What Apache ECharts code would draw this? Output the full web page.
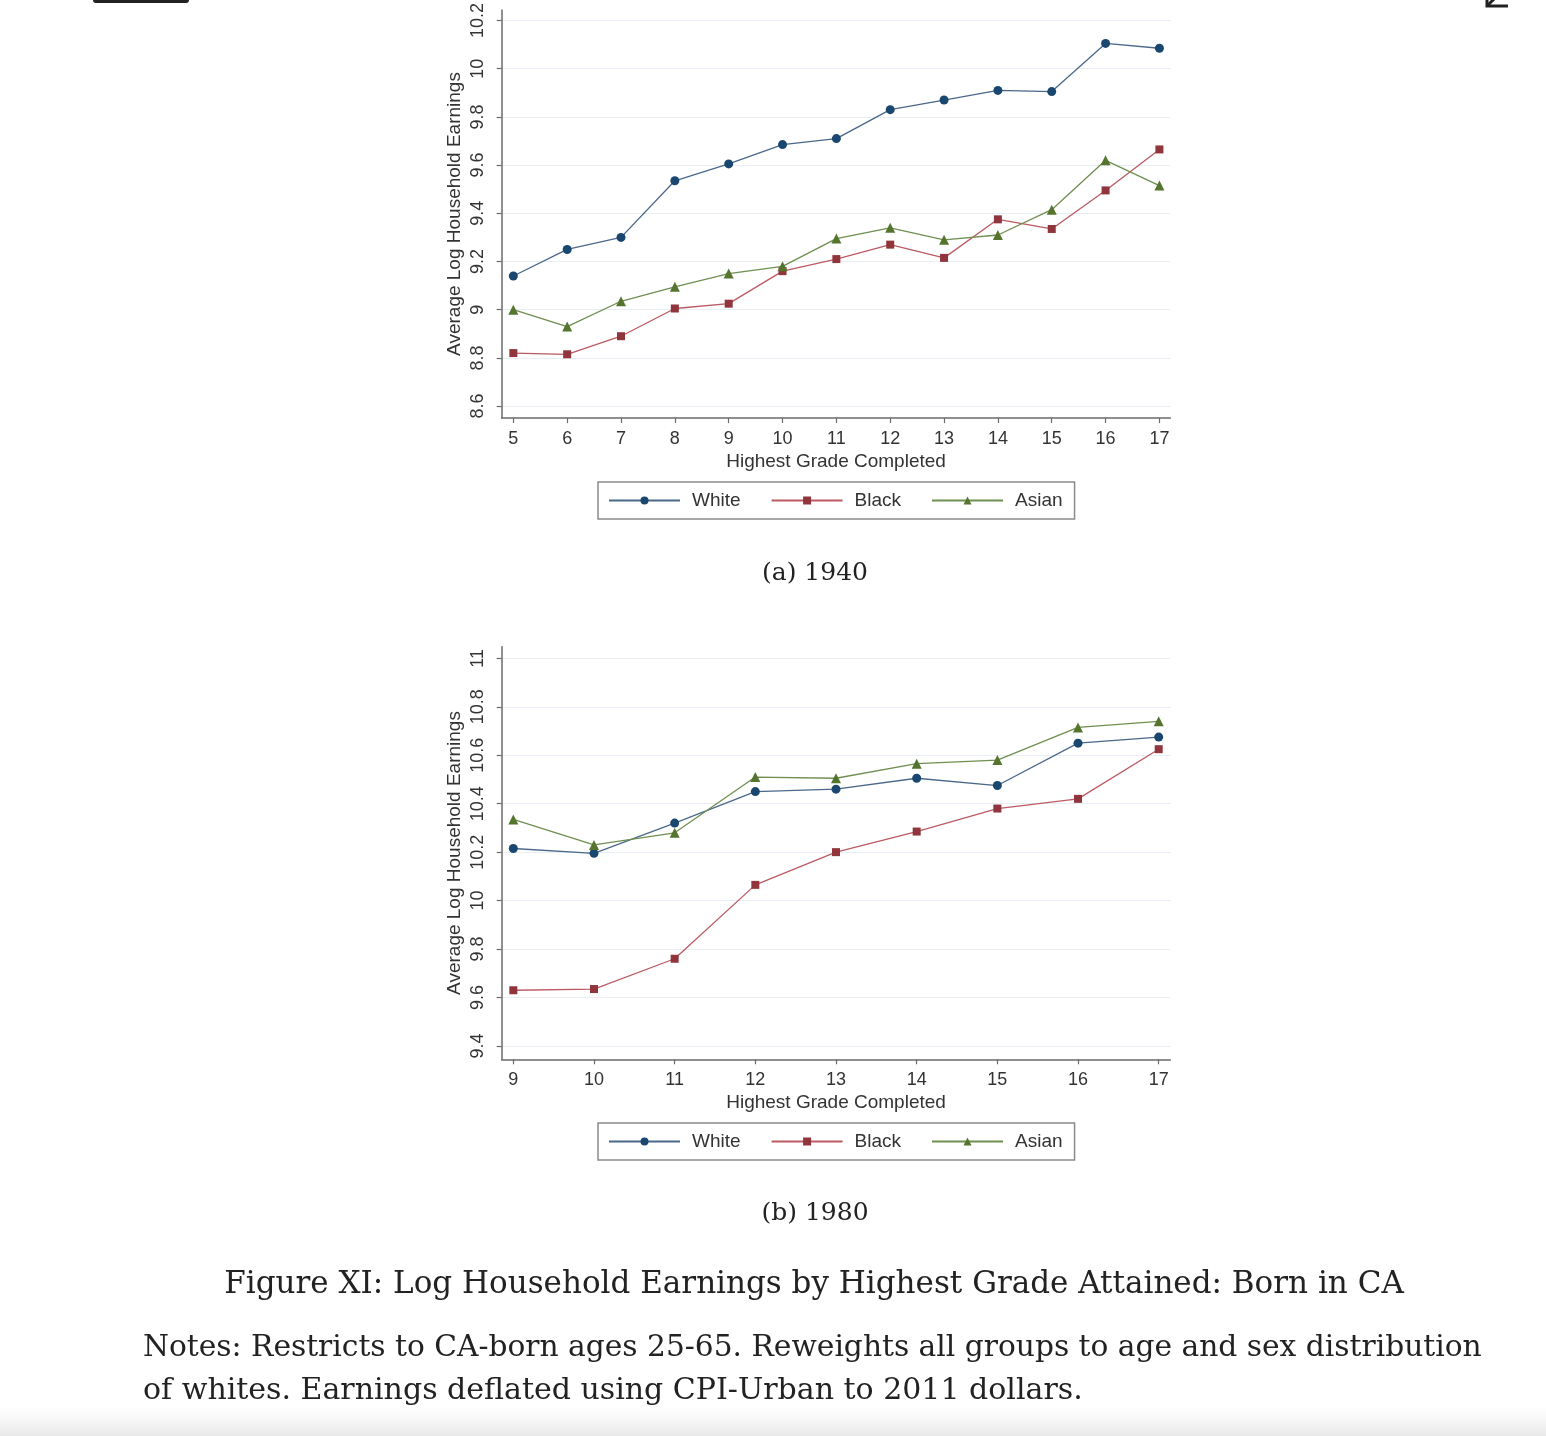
<!DOCTYPE html>
<html>
<head>
<meta charset="utf-8">
<script src="https://cdn.jsdelivr.net/npm/echarts@6/dist/echarts.min.js"></script>
<style>
html,body{margin:0;padding:0;background:#fff;}
#c{width:1546px;height:1436px;}
</style>
</head>
<body>
<div id="c"></div>
<script>
// ---- data ----
const seriesNames = ['White', 'Black', 'Asian'];

const grades1940 = [5, 6, 7, 8, 9, 10, 11, 12, 13, 14, 15, 16, 17];
const white1940 = [9.14, 9.25, 9.30, 9.535, 9.605, 9.685, 9.71, 9.83, 9.87, 9.91, 9.905, 10.105, 10.085];
const black1940 = [8.82, 8.815, 8.89, 9.005, 9.025, 9.16, 9.21, 9.27, 9.215, 9.375, 9.335, 9.495, 9.665];
const asian1940 = [9.0, 8.93, 9.035, 9.095, 9.15, 9.18, 9.295, 9.34, 9.29, 9.31, 9.415, 9.62, 9.515];

const grades1980 = [9, 10, 11, 12, 13, 14, 15, 16, 17];
const white1980 = [10.215, 10.195, 10.32, 10.45, 10.46, 10.505, 10.475, 10.65, 10.675];
const black1980 = [9.63, 9.635, 9.76, 10.065, 10.2, 10.285, 10.38, 10.42, 10.625];
const asian1980 = [10.335, 10.23, 10.28, 10.51, 10.505, 10.565, 10.58, 10.715, 10.74];

const yTicks1940 = [8.6, 8.8, 9, 9.2, 9.4, 9.6, 9.8, 10, 10.2];
const yTicks1980 = [9.4, 9.6, 9.8, 10, 10.2, 10.4, 10.6, 10.8, 11];

const yAxisTitle = 'Average Log Household Earnings';
const xAxisTitle = 'Highest Grade Completed';
const panelA = '(a) 1940';
const panelB = '(b) 1980';
const figCaption = 'Figure XI: Log Household Earnings by Highest Grade Attained: Born in CA';
const notes1 = 'Notes: Restricts to CA-born ages 25-65. Reweights all groups to age and sex distribution';
const notes2 = 'of whites. Earnings deflated using CPI-Urban to 2011 dollars.';

// ---- styles ----
const sans = '"Liberation Sans", Arial, sans-serif';
const serif = '"DejaVu Serif", serif';
const markerColors = ['#1a476f', '#90353b', '#55752f'];
const lineColors = ['#4a6889', '#bb5a62', '#6f8f50'];
const symbols = ['circle', 'rect', 'triangle'];
const symbolSizes = [9, 8, 10];

function pairs(xs, ys) { return xs.map((x, i) => [x, ys[i]]); }

function xAxisCfg(gi, min, max, ticks) {
  return {
    type: 'value', gridIndex: gi, min: min, max: max,
    name: xAxisTitle, nameLocation: 'middle', nameGap: 34,
    nameTextStyle: { fontFamily: sans, fontSize: 19, color: '#333' },
    axisLine: { show: true, lineStyle: { color: '#6b6b6b', width: 1.5 } },
    axisTick: { show: true, length: 5, customValues: ticks, lineStyle: { color: '#6b6b6b', width: 1.2 } },
    axisLabel: { customValues: ticks, margin: 12, fontFamily: sans, fontSize: 18, color: '#333' },
    splitLine: { show: false }
  };
}
function yAxisCfg(gi, min, max, ticks) {
  return {
    type: 'value', gridIndex: gi, min: min, max: max,
    name: yAxisTitle, nameLocation: 'middle', nameGap: 37, nameRotate: 90,
    nameTextStyle: { fontFamily: sans, fontSize: 19, color: '#333' },
    axisLine: { show: true, lineStyle: { color: '#6b6b6b', width: 1.5 } },
    axisTick: { show: true, length: 5, customValues: ticks, lineStyle: { color: '#6b6b6b', width: 1.2 } },
    axisLabel: { customValues: ticks, rotate: 90, margin: 15, fontFamily: sans, fontSize: 18, color: '#333' },
    splitLine: { show: true, lineStyle: { color: '#e8eef3', width: 1 } }
  };
}
function lineSeries(idx, xi, data) {
  return {
    type: 'line', name: seriesNames[idx], xAxisIndex: xi, yAxisIndex: xi,
    data: data, symbol: symbols[idx], symbolSize: symbolSizes[idx],
    showAllSymbol: true, animation: false,
    itemStyle: { color: markerColors[idx] },
    lineStyle: { color: lineColors[idx], width: 1.3 }
  };
}
function legendCfg(top) {
  return {
    data: seriesNames, left: 598, top: top, orient: 'horizontal',
    padding: [9, 12, 9, 10], itemWidth: 71, itemHeight: 10, itemGap: 30,
    borderColor: '#8a8a8a', borderWidth: 1.5, backgroundColor: '#fff',
    textStyle: { fontFamily: sans, fontSize: 19, color: '#333', padding: [0, 0, 0, 7] },
    selectedMode: false
  };
}

const chart = echarts.init(document.getElementById('c'), null, { renderer: 'canvas' });
const option = {
  backgroundColor: '#ffffff',
  animation: false,
  grid: [
    { left: 501.7, top: 6.7, width: 668.7, height: 411.3, containLabel: false },
    { left: 501.7, top: 646.7, width: 668.7, height: 412.6, containLabel: false }
  ],
  xAxis: [
    xAxisCfg(0, 4.784, 17.204, grades1940),
    xAxisCfg(1, 8.856, 17.145, grades1980)
  ],
  yAxis: [
    yAxisCfg(0, 8.5506, 10.2436, yTicks1940),
    yAxisCfg(1, 9.345, 11.048, yTicks1980)
  ],
  legend: [legendCfg(482), legendCfg(1123)],
  series: [
    lineSeries(0, 0, pairs(grades1940, white1940)),
    lineSeries(1, 0, pairs(grades1940, black1940)),
    lineSeries(2, 0, pairs(grades1940, asian1940)),
    lineSeries(0, 1, pairs(grades1980, white1980)),
    lineSeries(1, 1, pairs(grades1980, black1980)),
    lineSeries(2, 1, pairs(grades1980, asian1980))
  ],
  graphic: [
    { type: 'rect', left: 0, top: 1405, shape: { width: 1546, height: 31 }, silent: true,
      style: { fill: new echarts.graphic.LinearGradient(0, 0, 0, 1, [
        { offset: 0, color: 'rgba(240,240,240,0)' }, { offset: 1, color: '#e9e9e9' }]) } },
    { type: 'rect', shape: { x: 93, y: -4, width: 96, height: 7, r: 3 }, style: { fill: '#222' }, silent: true },
    { type: 'polyline', shape: { points: [[1487, -4], [1487, 6], [1508, 6]] }, style: { stroke: '#222', lineWidth: 3, fill: null }, silent: true },
    { type: 'polyline', shape: { points: [[1488, 5], [1499, -6]] }, style: { stroke: '#222', lineWidth: 3, fill: null }, silent: true },
    { type: 'text', style: { text: panelA, x: 815, y: 573, align: 'center', verticalAlign: 'middle', font: '25px ' + serif, fill: '#222' } },
    { type: 'text', style: { text: panelB, x: 815, y: 1213, align: 'center', verticalAlign: 'middle', font: '25px ' + serif, fill: '#222' } },
    { type: 'text', style: { text: figCaption, x: 814, y: 1285, align: 'center', verticalAlign: 'middle', font: '31px ' + serif, fill: '#222' } },
    { type: 'text', style: { text: notes1, x: 143, y: 1348, align: 'left', verticalAlign: 'middle', font: '29.7px ' + serif, fill: '#222' } },
    { type: 'text', style: { text: notes2, x: 143, y: 1391, align: 'left', verticalAlign: 'middle', font: '30px ' + serif, fill: '#222' } }
  ]
};
chart.setOption(option);
</script>
</body>
</html>
